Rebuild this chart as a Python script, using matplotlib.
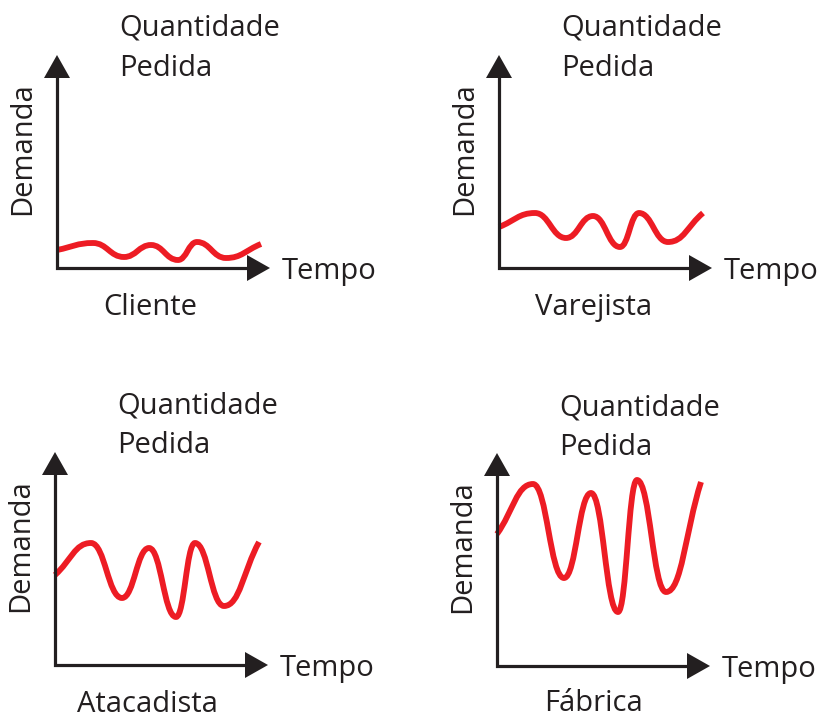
import matplotlib
matplotlib.use('Agg')
import matplotlib.pyplot as plt
from matplotlib.path import Path
from matplotlib.patches import PathPatch

plt.rcParams['font.family'] = ['Open Sans', 'DejaVu Sans']

W, H = 818, 714

# time of each turning point of the curves (px along the time axis)
tempo = [0, 36, 67, 94, 121, 140, 169, 204]

# demand (px above the time axis)
cliente = [18, 25, 11, 23, 8, 26, 10, 24]
varejista = [41, 55, 30, 52, 21, 55, 26, 55]
atacadista = [90, 122, 67, 117, 48, 122, 59, 123]
fabrica = [132, 182, 88, 173, 54, 186, 74, 184]

nomes = ['Cliente', 'Varejista', 'Atacadista', 'Fábrica']
series = [cliente, varejista, atacadista, fabrica]
# origin of each little chart in the figure (px)
origens = [(57, 268), (499, 268), (55, 665), (497, 666)]
# baselines of "Quantidade" / "Pedida" and of the name under each chart
titulo_y = [(232, 192), (232, 192), (251, 212), (251, 211)]
nome_pos = [(93, -47), (95, -47), (92, -47), (96, -45)]

RED = '#ED1C24'
INK = '#231F20'


def curva(t, d, k=0.45):
    # cubic bezier through the points, flat tangents at the turning points
    verts = [(t[0], d[0])]
    codes = [Path.MOVETO]
    n = len(t)
    for i in range(n - 1):
        dx = t[i + 1] - t[i]
        s0 = (d[1] - d[0]) / (t[1] - t[0]) if i == 0 else 0.0
        s1 = (d[-1] - d[-2]) / (t[-1] - t[-2]) if i == n - 2 else 0.0
        verts += [(t[i] + k * dx, d[i] + k * dx * s0),
                  (t[i + 1] - k * dx, d[i + 1] - k * dx * s1),
                  (t[i + 1], d[i + 1])]
        codes += [Path.CURVE4] * 3
    return Path(verts, codes)


fig = plt.figure(figsize=(W / 100, H / 100), dpi=100)

for nome, d, (ox, oy), (qy, py), (nx, ny) in zip(nomes, series, origens,
                                                 titulo_y, nome_pos):
    ax = fig.add_axes([(ox - 60) / W, (H - oy - 60) / H, 330 / W, 330 / H])
    ax.set_xlim(-60, 270)
    ax.set_ylim(-60, 270)
    ax.axis('off')

    # axes with arrow heads
    ax.plot([0, 0, 192], [192, 0, 0], color=INK, lw=2.3,
            solid_joinstyle='miter', solid_capstyle='butt')
    ax.fill([-13, 13, 0], [190, 190, 213], color=INK, lw=0)
    ax.fill([190, 190, 213], [-13, 13, 0], color=INK, lw=0)

    ax.add_patch(PathPatch(curva(tempo, d), fill=False, edgecolor=RED,
                           lw=4.2, capstyle='butt', joinstyle='round'))

    fs = 21
    ax.text(62, qy, 'Quantidade', fontsize=fs, color=INK, ha='left', va='baseline')
    ax.text(62, py, 'Pedida', fontsize=fs, color=INK, ha='left', va='baseline')
    ax.text(-34, 119, 'Demanda', fontsize=fs, color=INK, rotation=90,
            ha='center', va='center')
    ax.text(225, -11, 'Tempo', fontsize=fs, color=INK, ha='left', va='baseline')
    ax.text(nx, ny, nome, fontsize=fs, color=INK, ha='center', va='baseline')

fig.savefig('out.png', dpi=100)
